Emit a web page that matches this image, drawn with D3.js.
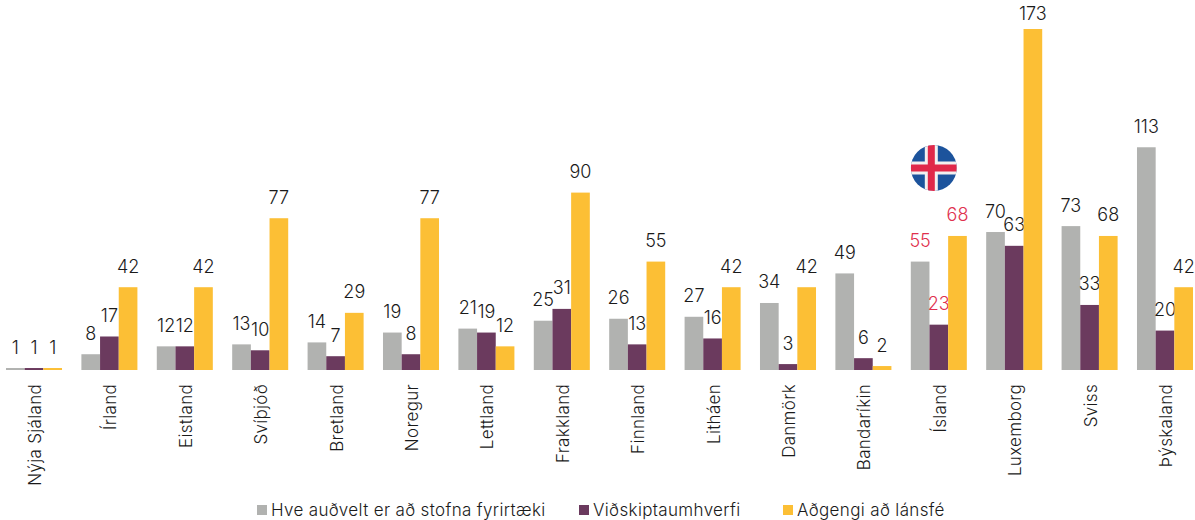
<!doctype html>
<html>
<head>
<meta charset="utf-8">
<script src="https://d3js.org/d3.v7.min.js"></script>
<style>
html, body {margin: 0; padding: 0; background: white;}
svg {display: block;}
text {font-family: Inter, sans-serif; font-weight: 300; fill: #1a1a1a;}
</style>
</head>
<body>
<svg width="1195" height="520" class="chart"></svg>
<script>
var countries = ["Nýja Sjáland","Írland","Eistland","Svíþjóð","Bretland","Noregur","Lettland","Frakkland","Finnland","Litháen","Danmörk","Bandaríkin","Ísland","Luxemborg","Sviss","Þýskaland"];
var stofna = [1,8,12,13,14,19,21,25,26,27,34,49,55,70,73,113];
var umhverfi = [1,17,12,10,7,8,19,31,13,16,3,6,23,63,33,20];
var lansfe = [1,42,42,77,29,77,12,90,55,42,42,2,68,173,68,42];
var seriesNames = ["Hve auðvelt er að stofna fyrirtæki","Viðskiptaumhverfi","Aðgengi að lánsfé"];
var seriesValues = [stofna, umhverfi, lansfe];
var colors = ["#b1b2b0","#6b3a5e","#fcbf35"];
var highlight = "Ísland";

var svg = d3.select(".chart");
var baseY = 370;

var x = d3.scaleBand().domain(countries).range([-3.7, 1202.7]).paddingInner(0.257).paddingOuter(0.1285);
var inner = d3.scaleBand().domain(d3.range(3)).range([0, x.bandwidth()]);
var y = d3.scaleLinear().domain([0, 173]).range([baseY, 29]);

// bars + value labels
seriesValues.forEach(function(vals, s) {
    var g = svg.append("g");
    g.selectAll("rect")
        .data(vals)
        .enter().append("rect")
        .attr("x", function(d, i) {return x(countries[i]) + inner(s);})
        .attr("y", function(d) {return y(d);})
        .attr("width", inner.bandwidth())
        .attr("height", function(d) {return baseY - y(d);})
        .style("fill", colors[s]);
    g.selectAll("text")
        .data(vals)
        .enter().append("text")
        .attr("x", function(d, i) {return x(countries[i]) + inner(s) + inner.bandwidth() / 2;})
        .attr("y", function(d) {return Math.max(y(d) - 14.5, 20);})  // tallest bar label sits lower
        .attr("text-anchor", "middle")
        .style("font-size", "18px")
        .style("fill", function(d, i) {return countries[i] == highlight ? "#e0304e" : "#1a1a1a";})
        .text(function(d) {return d;});
});

// country labels
var axis = svg.append("g")
    .attr("transform", "translate(0," + baseY + ")")
    .call(d3.axisBottom(x).tickSize(0));
axis.select(".domain").remove();
axis.selectAll("text")
    .attr("transform", "rotate(-90)")
    .attr("x", -14)
    .attr("y", 1)
    .attr("dy", "0.35em")
    .attr("text-anchor", "end")
    .style("font-size", "17px")
    .style("letter-spacing", "0.3px");

// flag of Iceland
var cx = x(highlight) + x.bandwidth() / 2 - 5, cy = 168, r = 23;
svg.append("clipPath").attr("id", "flagclip")
    .append("circle").attr("cx", cx).attr("cy", cy).attr("r", r);
var flag = svg.append("g").attr("clip-path", "url(#flagclip)");
flag.append("rect").attr("x", cx - r).attr("y", cy - r).attr("width", 2 * r).attr("height", 2 * r).style("fill", "#1c539c");
flag.append("rect").attr("x", cx - r).attr("y", cy - 6.5).attr("width", 2 * r).attr("height", 13).style("fill", "#f3f0f0");
flag.append("rect").attr("x", cx - 9).attr("y", cy - r).attr("width", 13).attr("height", 2 * r).style("fill", "#f3f0f0");
flag.append("rect").attr("x", cx - r).attr("y", cy - 3.5).attr("width", 2 * r).attr("height", 7).style("fill", "#e0284a");
flag.append("rect").attr("x", cx - 6).attr("y", cy - r).attr("width", 7).attr("height", 2 * r).style("fill", "#e0284a");

// legend
var legendX = [257, 579, 783];
seriesNames.forEach(function(name, i) {
    svg.append("rect")
        .attr("x", legendX[i]).attr("y", 505)
        .attr("width", 10).attr("height", 10)
        .style("fill", colors[i]);
    svg.append("text")
        .attr("x", legendX[i] + 14).attr("y", 516)
        .style("font-size", "17px")
        .style("letter-spacing", "0.35px")
        .text(name);
});
</script>
</body>
</html>
